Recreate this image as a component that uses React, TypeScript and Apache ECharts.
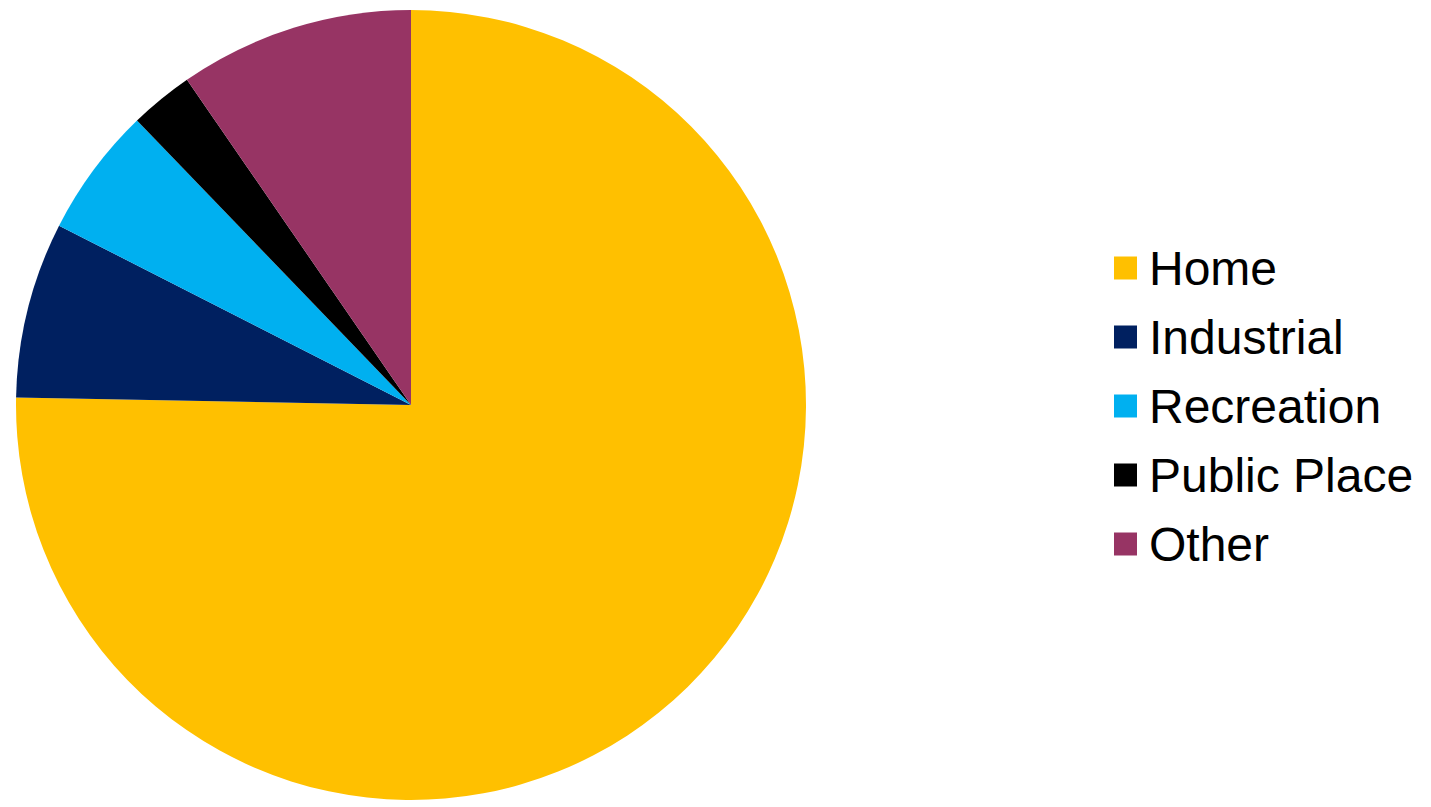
import React, { useEffect, useRef } from "react";
import * as echarts from "echarts";

const categories = ["Home", "Industrial", "Recreation", "Public Place", "Other"];
const values = [75.3, 7.2, 5.3, 2.6, 9.6];
const colors = ["#FFC000", "#002060", "#00B0F0", "#000000", "#973464"];

export default function App() {
  const ref = useRef<HTMLDivElement>(null);
  useEffect(() => {
    if (!ref.current) return;
    const chart = echarts.init(ref.current, undefined, { renderer: "svg" });
    chart.setOption({
      animation: false,
      backgroundColor: "#ffffff",
      legend: {
        orient: "vertical",
        left: 1114,
        top: 244,
        padding: 0,
        itemWidth: 23,
        itemHeight: 23,
        itemGap: 21,
        icon: "rect",
        data: categories,
        textStyle: {
          fontFamily: "Liberation Sans, Arial, sans-serif",
          fontSize: 48,
          lineHeight: 48,
          color: "#000000",
          padding: [0, 0, 0, 7],
        },
        selectedMode: false,
      },
      series: [
        {
          type: "pie",
          center: [411, 405],
          radius: 395,
          startAngle: 90,
          clockwise: true,
          label: { show: false },
          labelLine: { show: false },
          emphasis: { disabled: true },
          silent: true,
          itemStyle: { borderWidth: 0 },
          data: categories.map((name, i) => ({
            name,
            value: values[i],
            itemStyle: { color: colors[i] },
          })),
        },
      ],
    });
    return () => chart.dispose();
  }, []);
  return (
    <div
      ref={ref}
      style={{ position: "fixed", left: 0, top: 0, width: 1431, height: 807 }}
    />
  );
}
